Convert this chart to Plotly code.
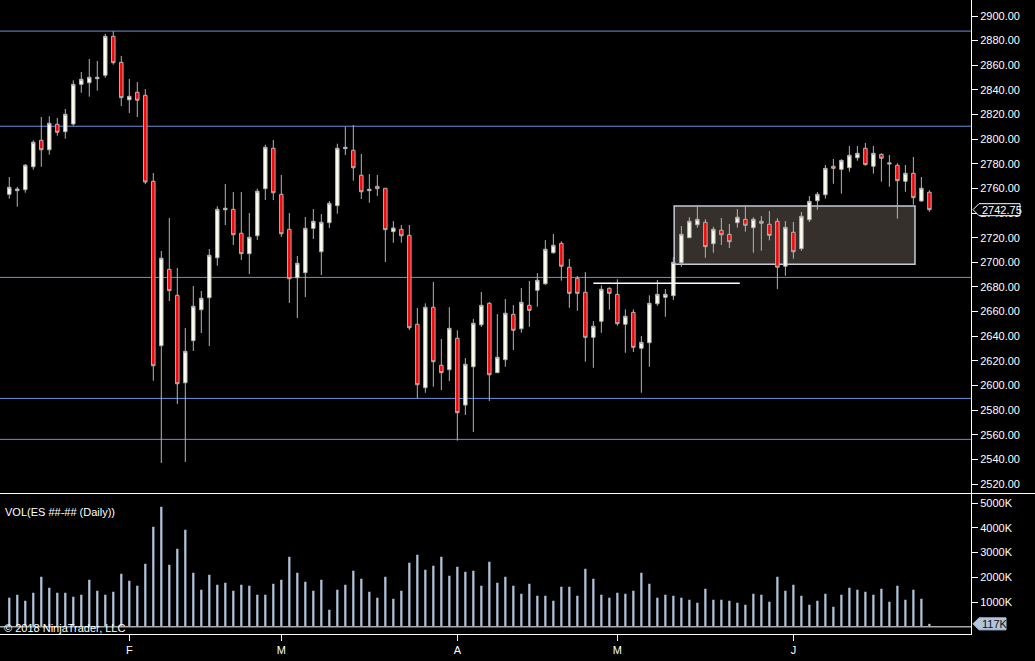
import plotly.graph_objects as go

# daily ES bars (Jan 10 .. late June 2018)
opens = [
    2755.2, 2758.2, 2759.0, 2777.6, 2799.1, 2791.4, 2812.1, 2806.1, 2812.3, 2844.5,
    2845.8, 2849.1, 2851.9, 2883.5, 2862.4, 2832.0, 2838.1, 2835.6, 2765.8, 2632.3,
    2694.3, 2673.2, 2602.2, 2636.4, 2661.5, 2671.3, 2703.7, 2742.7, 2743.0, 2723.6,
    2707.0, 2721.6, 2759.8, 2792.6, 2755.2, 2726.8, 2687.5, 2691.6, 2727.6, 2708.6,
    2732.2, 2746.0, 2792.3, 2791.0, 2770.7, 2758.2, 2761.7, 2760.1, 2724.9, 2726.8,
    2721.9, 2649.7, 2598.2, 2663.5, 2616.4, 2612.8, 2638.3, 2584.1, 2615.2, 2649.3,
    2666.7, 2610.4, 2620.9, 2657.8, 2646.1, 2665.1, 2677.3, 2682.6, 2707.8, 2715.4,
    2696.0, 2687.0, 2675.7, 2639.1, 2652.1, 2678.9, 2674.0, 2649.7, 2659.4, 2630.2,
    2634.7, 2666.4, 2671.6, 2672.9, 2699.7, 2720.0, 2730.5, 2732.5, 2715.1, 2726.0,
    2722.7, 2732.2, 2734.9, 2728.1, 2733.3, 2730.9, 2733.3, 2696.8, 2724.4, 2711.1,
    2734.6, 2750.0, 2754.9, 2778.0, 2775.5, 2776.8, 2784.9, 2792.6, 2778.0, 2787.7,
    2779.8, 2778.8, 2765.8, 2772.3, 2749.8, 2756.9,
]
highs = [
    2769.3, 2761.2, 2779.8, 2799.1, 2818.0, 2818.6, 2817.2, 2824.5, 2847.8, 2854.5,
    2865.1, 2863.5, 2885.4, 2887.6, 2867.5, 2848.9, 2846.4, 2840.7, 2772.5, 2709.2,
    2736.0, 2695.4, 2646.7, 2680.8, 2676.7, 2710.8, 2745.5, 2763.6, 2757.1, 2757.1,
    2740.0, 2759.8, 2795.5, 2799.3, 2770.9, 2740.0, 2705.1, 2736.8, 2743.3, 2739.2,
    2749.8, 2796.3, 2810.1, 2811.5, 2788.0, 2771.7, 2770.9, 2760.1, 2733.5, 2730.3,
    2730.3, 2662.9, 2666.7, 2684.0, 2637.7, 2663.5, 2644.8, 2622.3, 2654.0, 2675.9,
    2667.8, 2658.0, 2670.2, 2665.3, 2679.1, 2684.8, 2691.3, 2718.1, 2723.0, 2717.1,
    2702.7, 2688.9, 2692.1, 2652.3, 2681.3, 2679.7, 2686.2, 2661.8, 2661.8, 2640.2,
    2673.2, 2685.6, 2678.3, 2704.3, 2729.5, 2736.6, 2745.2, 2734.9, 2728.9, 2736.0,
    2731.1, 2743.3, 2745.2, 2736.6, 2737.6, 2741.7, 2735.7, 2733.5, 2732.7, 2740.9,
    2753.8, 2757.1, 2779.0, 2783.9, 2783.6, 2794.4, 2794.4, 2796.9, 2794.4, 2788.5,
    2787.1, 2780.4, 2779.0, 2785.5, 2769.3, 2758.5,
]
lows = [
    2751.7, 2745.2, 2756.5, 2775.2, 2777.6, 2787.4, 2802.8, 2800.4, 2810.9, 2837.7,
    2834.5, 2839.4, 2849.9, 2860.5, 2826.9, 2821.2, 2818.0, 2763.6, 2603.9, 2537.0,
    2668.6, 2585.0, 2537.9, 2628.0, 2642.6, 2632.0, 2697.3, 2730.3, 2714.1, 2701.9,
    2690.5, 2718.1, 2750.6, 2750.6, 2720.6, 2667.0, 2654.8, 2671.8, 2718.9, 2689.7,
    2727.9, 2739.5, 2787.1, 2766.3, 2751.4, 2748.4, 2753.8, 2700.3, 2715.9, 2715.9,
    2645.0, 2589.6, 2594.1, 2599.0, 2596.3, 2603.6, 2555.2, 2576.0, 2562.2, 2647.5,
    2587.4, 2610.4, 2615.2, 2628.8, 2642.8, 2647.7, 2664.0, 2681.6, 2707.0, 2685.1,
    2663.1, 2660.7, 2619.3, 2614.4, 2642.8, 2661.5, 2648.5, 2626.6, 2627.2, 2594.1,
    2615.2, 2664.8, 2655.8, 2669.4, 2696.4, 2720.0, 2728.1, 2703.7, 2707.8, 2714.1,
    2711.6, 2728.1, 2724.9, 2707.8, 2709.4, 2717.9, 2678.3, 2689.1, 2702.9, 2709.4,
    2732.7, 2742.7, 2751.7, 2763.8, 2755.7, 2773.6, 2782.5, 2778.5, 2772.0, 2765.5,
    2761.4, 2735.4, 2757.3, 2746.8, 2749.2, 2741.1,
]
closes = [
    2760.9, 2759.5, 2778.8, 2797.5, 2791.4, 2812.9, 2805.6, 2820.2, 2844.5, 2848.6,
    2850.2, 2850.2, 2883.5, 2862.1, 2833.7, 2834.8, 2831.6, 2765.2, 2616.0, 2703.3,
    2677.0, 2601.4, 2627.7, 2664.3, 2670.8, 2705.7, 2743.0, 2743.9, 2722.4, 2707.0,
    2720.3, 2757.7, 2793.4, 2756.5, 2723.2, 2686.7, 2699.2, 2727.6, 2733.3, 2732.5,
    2747.9, 2792.6, 2793.4, 2776.8, 2757.3, 2759.3, 2759.8, 2726.5, 2727.9, 2721.6,
    2646.9, 2600.6, 2663.5, 2619.3, 2610.4, 2646.4, 2577.9, 2617.2, 2650.5, 2665.1,
    2608.7, 2622.9, 2658.6, 2644.8, 2667.5, 2661.0, 2685.4, 2710.6, 2713.8, 2696.8,
    2674.8, 2674.8, 2639.1, 2648.0, 2678.1, 2674.8, 2650.2, 2656.2, 2631.0, 2635.0,
    2666.7, 2674.0, 2674.0, 2700.0, 2722.7, 2733.3, 2734.9, 2712.7, 2726.8, 2722.4,
    2716.7, 2736.6, 2730.1, 2734.9, 2731.7, 2721.9, 2696.0, 2728.4, 2708.6, 2737.4,
    2749.5, 2755.2, 2776.3, 2776.3, 2782.8, 2786.9, 2788.5, 2779.3, 2788.5, 2784.5,
    2780.6, 2766.3, 2772.3, 2752.5, 2760.1, 2742.75,
]
# volume in thousands of contracts
volumes = [
    1172, 1293, 1051, 1374, 2020, 1576, 1374, 1374, 1212, 1293,
    1899, 1455, 1293, 1414, 2141, 1859, 1657, 2545, 4040, 4848,
    2505, 3152, 3919, 2182, 1495, 2101, 1697, 1778, 1455, 1697,
    1657, 1293, 1293, 1737, 1899, 2828, 2182, 1818, 1455, 1899,
    687, 1495, 1697, 2263, 1939, 1414, 1172, 2020, 1131, 1455,
    2586, 2909, 2303, 2465, 2828, 2061, 2424, 2222, 2263, 1657,
    2626, 1778, 2020, 1657, 1333, 1737, 1253, 1253, 1051, 1616,
    1616, 1253, 2343, 1939, 1293, 1172, 1374, 1333, 1455, 2182,
    1737, 1172, 1293, 1253, 1172, 1091, 970, 1535, 1091, 1091,
    1051, 970, 889, 1333, 1293, 1010, 2020, 1455, 1697, 1253,
    889, 1051, 1333, 808, 1293, 1576, 1495, 1414, 1293, 1535,
    1010, 1657, 1091, 1495, 1131, 117,
]

# month labels on the time axis (bar index of first session of the month)
month_start_idx = [15, 34, 56, 76, 98]
month_labels = ["F", "M", "A", "M", "J"]

price_ticks = list(range(2520, 2901, 20))
volume_ticks = [1000, 2000, 3000, 4000, 5000]

# drawing objects on the chart
hline_levels = [2887.75, 2810.5, 2687.75, 2589.5, 2556.25]
range_box = dict(x0=83.1, x1=113.2, low=2698.4, high=2745.7)
white_level = dict(x0=73, x1=91.3, price=2683.0)

FONT = "Liberation Sans, Arial, sans-serif"
idx = list(range(len(closes)))

fig = go.Figure()
fig.add_trace(
    go.Candlestick(
        x=idx,
        open=opens,
        high=highs,
        low=lows,
        close=closes,
        increasing=dict(fillcolor="#fffff0", line=dict(color="#b4b4b4", width=1)),
        decreasing=dict(fillcolor="#ff0000", line=dict(color="#b4b4b4", width=1)),
        whiskerwidth=0,
        showlegend=False,
        yaxis="y",
    )
)
fig.add_trace(
    go.Bar(
        x=idx,
        y=volumes,
        width=0.28,
        marker=dict(color="#b0c4de", line=dict(width=0)),
        showlegend=False,
        yaxis="y2",
    )
)

shapes = []
# the range box goes under the candles
shapes.append(
    dict(
        type="rect", xref="x", yref="y",
        x0=range_box["x0"], x1=range_box["x1"],
        y0=range_box["low"], y1=range_box["high"],
        fillcolor="#35302b", line=dict(color="#c4ccd8", width=1.5), layer="below",
    )
)
for lv in hline_levels:
    shapes.append(
        dict(type="line", xref="paper", x0=0, x1=1, yref="y", y0=lv, y1=lv,
             line=dict(color="#6a8fdc", width=1), layer="below")
    )
shapes.append(
    dict(type="line", xref="x", yref="y",
         x0=white_level["x0"], x1=white_level["x1"],
         y0=white_level["price"], y1=white_level["price"],
         line=dict(color="white", width=1.5))
)
# separator between price and volume panels
shapes.append(
    dict(type="line", xref="paper", yref="paper", x0=0, x1=1.07, y0=0.2216, y1=0.2216,
         line=dict(color="white", width=1))
)
# volume zero line
shapes.append(
    dict(type="line", xref="paper", x0=0, x1=1, yref="y2", y0=0, y1=0,
         line=dict(color="#a8a8a8", width=1.5))
)
# last price / last volume tags on the right axis
shapes.append(
    dict(type="path", xref="paper", xsizemode="pixel", xanchor=1,
         yref="y", ysizemode="pixel", yanchor=closes[-1],
         path="M 2 0 L 8 6 L 49 6 L 49 -6 L 8 -6 Z",
         fillcolor="black", line=dict(color="white", width=1))
)
shapes.append(
    dict(type="path", xref="paper", xsizemode="pixel", xanchor=1,
         yref="y2", ysizemode="pixel", yanchor=volumes[-1],
         path="M 2 0 L 8 6 L 35 6 L 35 -6 L 8 -6 Z",
         fillcolor="#b0c4de", line=dict(color="#b0c4de", width=1))
)

annotations = [
    dict(text="VOL(ES ##-## (Daily))", xref="paper", yref="y2 domain", x=0.003, y=0.87,
         xanchor="left", yanchor="middle", showarrow=False,
         font=dict(family=FONT, size=11, color="white")),
    dict(text="© 2018 NinjaTrader, LLC", xref="paper", yref="y2 domain", x=0.002, y=0.045,
         xanchor="left", yanchor="middle", showarrow=False,
         font=dict(family=FONT, size=11, color="white")),
    dict(text=f"{closes[-1]:.2f}", xref="paper", yref="y", x=1, y=closes[-1], xshift=9,
         xanchor="left", yanchor="middle", showarrow=False,
         font=dict(family=FONT, size=11, color="white")),
    dict(text=f"{volumes[-1]}K", xref="paper", yref="y2", x=1, y=volumes[-1], xshift=9,
         xanchor="left", yanchor="middle", showarrow=False,
         font=dict(family=FONT, size=11, color="#111111")),
]

axis_common = dict(
    showgrid=False, zeroline=False, showline=True, linecolor="white", linewidth=1,
    ticks="outside", ticklen=6, tickcolor="white", tickwidth=1,
    tickfont=dict(family=FONT, size=11, color="white"),
)

fig.update_layout(
    width=1035,
    height=661,
    margin=dict(l=0, r=64, t=0, b=27),
    paper_bgcolor="black",
    plot_bgcolor="black",
    font=dict(family=FONT, size=11, color="white"),
    showlegend=False,
    boxgap=0.38,
    xaxis=dict(
        domain=[0, 1], range=[-1.16, 120.2], anchor="y2",
        tickvals=month_start_idx, ticktext=month_labels,
        rangeslider=dict(visible=False),
        **axis_common,
    ),
    yaxis=dict(
        domain=[0.2224, 1], range=[2512.7, 2913.0], side="right", anchor="x",
        tickvals=price_ticks, ticktext=[f"{v:.2f}" for v in price_ticks],
        **axis_common,
    ),
    yaxis2=dict(
        domain=[0, 0.2208], range=[-293, 5364], side="right", anchor="x",
        tickvals=volume_ticks, ticktext=[f"{v}K" for v in volume_ticks],
        **axis_common,
    ),
    shapes=shapes,
    annotations=annotations,
)

# page body has a default 8px margin; drop it so the figure fills the window
fig.write_html(
    "out.html",
    config={"displayModeBar": False},
    post_script="document.body.style.margin='0';document.body.style.overflow='hidden';",
)
